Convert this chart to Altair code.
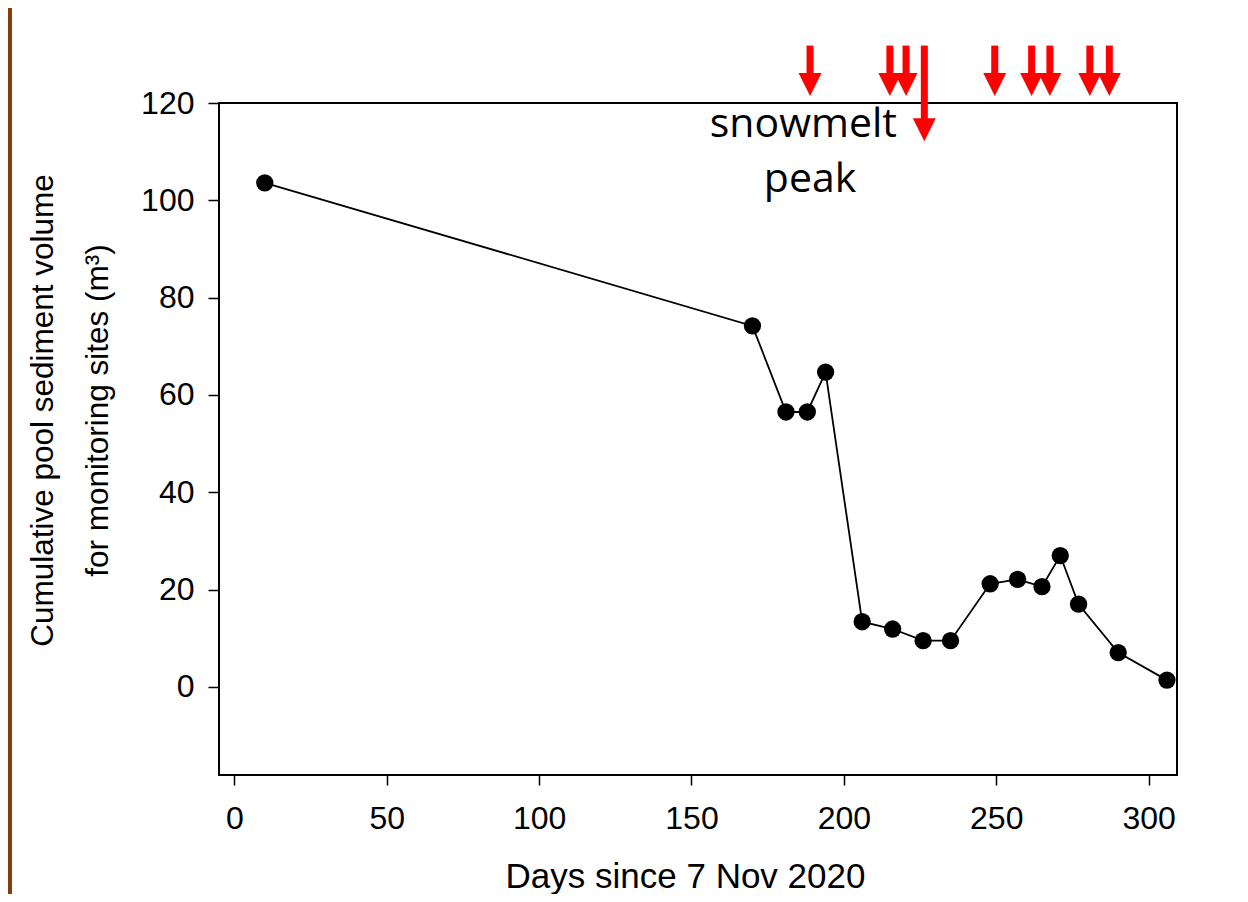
import altair as alt
import pandas as pd

# Observations
days = [10, 170, 181, 188, 194, 206, 216, 226, 235, 248, 257, 265, 271, 277, 290, 306]
volume = [103.6, 74.2, 56.5, 56.5, 64.7, 13.4, 11.9, 9.5, 9.5, 21.2, 22.1, 20.6, 27.0, 17.0, 7.05, 1.4]

# Red event arrows (day of event, level where arrow head sits)
arrow_days = [188.9, 215.1, 220.4, 226.4, 249.5, 261.6, 267.6, 280.7, 287.1]
arrow_head = [123.8, 123.8, 123.8, 114.5, 123.8, 123.8, 123.8, 123.8, 123.8]
arrow_top = [131.8] * 9

# Annotation text
note_text = ["snowmelt", "peak"]
note_x = [186.7, 188.9]
note_y = [113.1, 101.8]

x_ticks = [0, 50, 100, 150, 200, 250, 300]
y_ticks = [0, 20, 40, 60, 80, 100, 120]

FONT = "Liberation Sans"

df = pd.DataFrame({"days": days, "volume": volume})
arrows = pd.DataFrame({"x": arrow_days, "y": arrow_top, "y2": arrow_head})
notes = pd.DataFrame({"t": note_text, "x": note_x, "y": note_y})
frame = pd.DataFrame({"k": [0]})

xscale = alt.Scale(domain=[-5.02, 309.3], nice=False, zero=False)
yscale = alt.Scale(domain=[-18.1, 120], nice=False, zero=False)

xenc = alt.X(
    "days:Q", scale=xscale,
    axis=alt.Axis(values=x_ticks, title="Days since 7 Nov 2020", titleX=466, titleY=112,
                  titleBaseline="alphabetic", titleAnchor="start", titleAlign="center",
                  labelPadding=18, tickSize=10),
)
yenc = alt.Y(
    "volume:Q", scale=yscale,
    axis=alt.Axis(values=y_ticks, title=["Cumulative pool sediment volume", "for monitoring sites (m³)"],
                  titleX=-167, titleY=307, titleAngle=-90, titleBaseline="alphabetic",
                  titleAlign="center", titleLineHeight=55, titleFontSize=31.5,
                  labelPadding=14, tickSize=11),
)

# slide border strip on the left edge
strip = alt.Chart(frame).mark_rect(color="#843C0C").encode(
    x=alt.value(-211), x2=alt.value(-207), y=alt.value(-95), y2=alt.value(791)
)

line = alt.Chart(df).mark_line(color="black", strokeWidth=1.8).encode(x=xenc, y=yenc)
pts = alt.Chart(df).mark_circle(size=300, color="black", opacity=1).encode(x="days:Q", y="volume:Q")

shafts = alt.Chart(arrows).mark_rule(color="#FF0000", strokeWidth=7, strokeCap="butt").encode(
    x=alt.X("x:Q", scale=xscale), y=alt.Y("y:Q", scale=yscale), y2="y2:Q"
)
heads = alt.Chart(arrows).mark_point(
    shape="M -1 -1 L 1 -1 L 0 1 Z", size=529, filled=True, color="#FF0000", opacity=1, strokeWidth=0
).encode(x=alt.X("x:Q", scale=xscale), y=alt.Y("y2:Q", scale=yscale))

txt = alt.Chart(notes).mark_text(
    font="Open Sans", fontSize=41, color="black", align="center", baseline="alphabetic"
).encode(x=alt.X("x:Q", scale=xscale), y=alt.Y("y:Q", scale=yscale), text="t:N")

chart = (
    alt.layer(line, pts, shafts, heads, txt, strip)
    .properties(
        width=958, height=672,
        autosize=alt.AutoSizeParams(type="none"),
        padding={"left": 211, "top": 95, "right": 55, "bottom": 119},
        background="white",
    )
    .configure_view(stroke="black", strokeWidth=2)
    .configure_axis(
        domain=False, grid=False, tickColor="black", tickWidth=1.5,
        labelFont=FONT, labelFontSize=32, labelColor="black",
        titleFont=FONT, titleFontSize=35, titleColor="black", titleFontWeight="normal",
    )
)

chart.save("out.html", embed_options={"renderer": "svg", "actions": False})
